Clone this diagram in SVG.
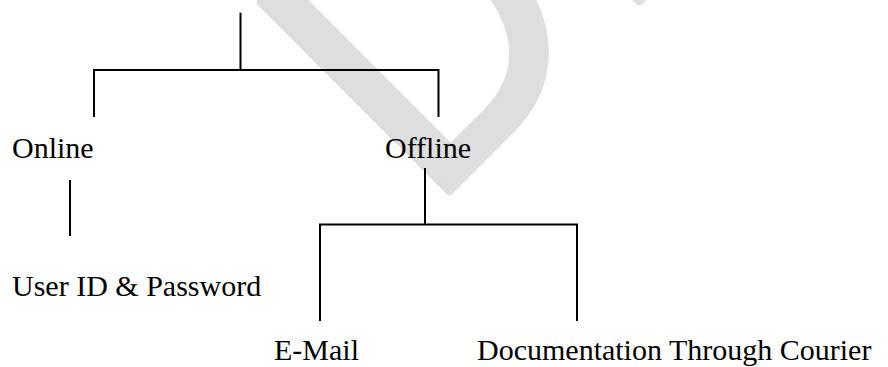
<svg xmlns="http://www.w3.org/2000/svg" width="888" height="367" viewBox="0 0 888 367">
<style>
.lbl{font-family:"Liberation Serif","Times New Roman",serif;font-size:30px;fill:#000}
.wm{font-family:"Liberation Sans",Arial,sans-serif;font-size:365px;fill:#dedede;stroke:#dedede;stroke-width:8;stroke-linejoin:round}
.ln{stroke:#000;stroke-width:2;fill:none}
</style>
<rect width="888" height="367" fill="#fff"/>
<g id="watermark"><text class="wm" transform="rotate(-45) scale(0.94,1.06)" x="164" y="427">D<tspan dx="22">RAFT</tspan></text></g>
<g id="connectors">
<path class="ln" d="M240.5 12.7V70M94 70H438.5M94 69V117M438.5 69V117"/>
<path class="ln" d="M70 180V236"/>
<path class="ln" d="M425 168V224.5M320 224.5H577M320 223.5V321M577 223.5V321"/>
</g>
<g id="online"><text class="lbl" x="12" y="158">Online</text></g>
<g id="offline"><text class="lbl" x="385" y="158">Offline</text></g>
<g id="userid"><text class="lbl" x="12" y="296">User ID &amp; Password</text></g>
<g id="email"><text class="lbl" x="274" y="360">E-Mail</text></g>
<g id="courier"><text class="lbl" x="477" y="360">Documentation Through Courier</text></g>
</svg>
